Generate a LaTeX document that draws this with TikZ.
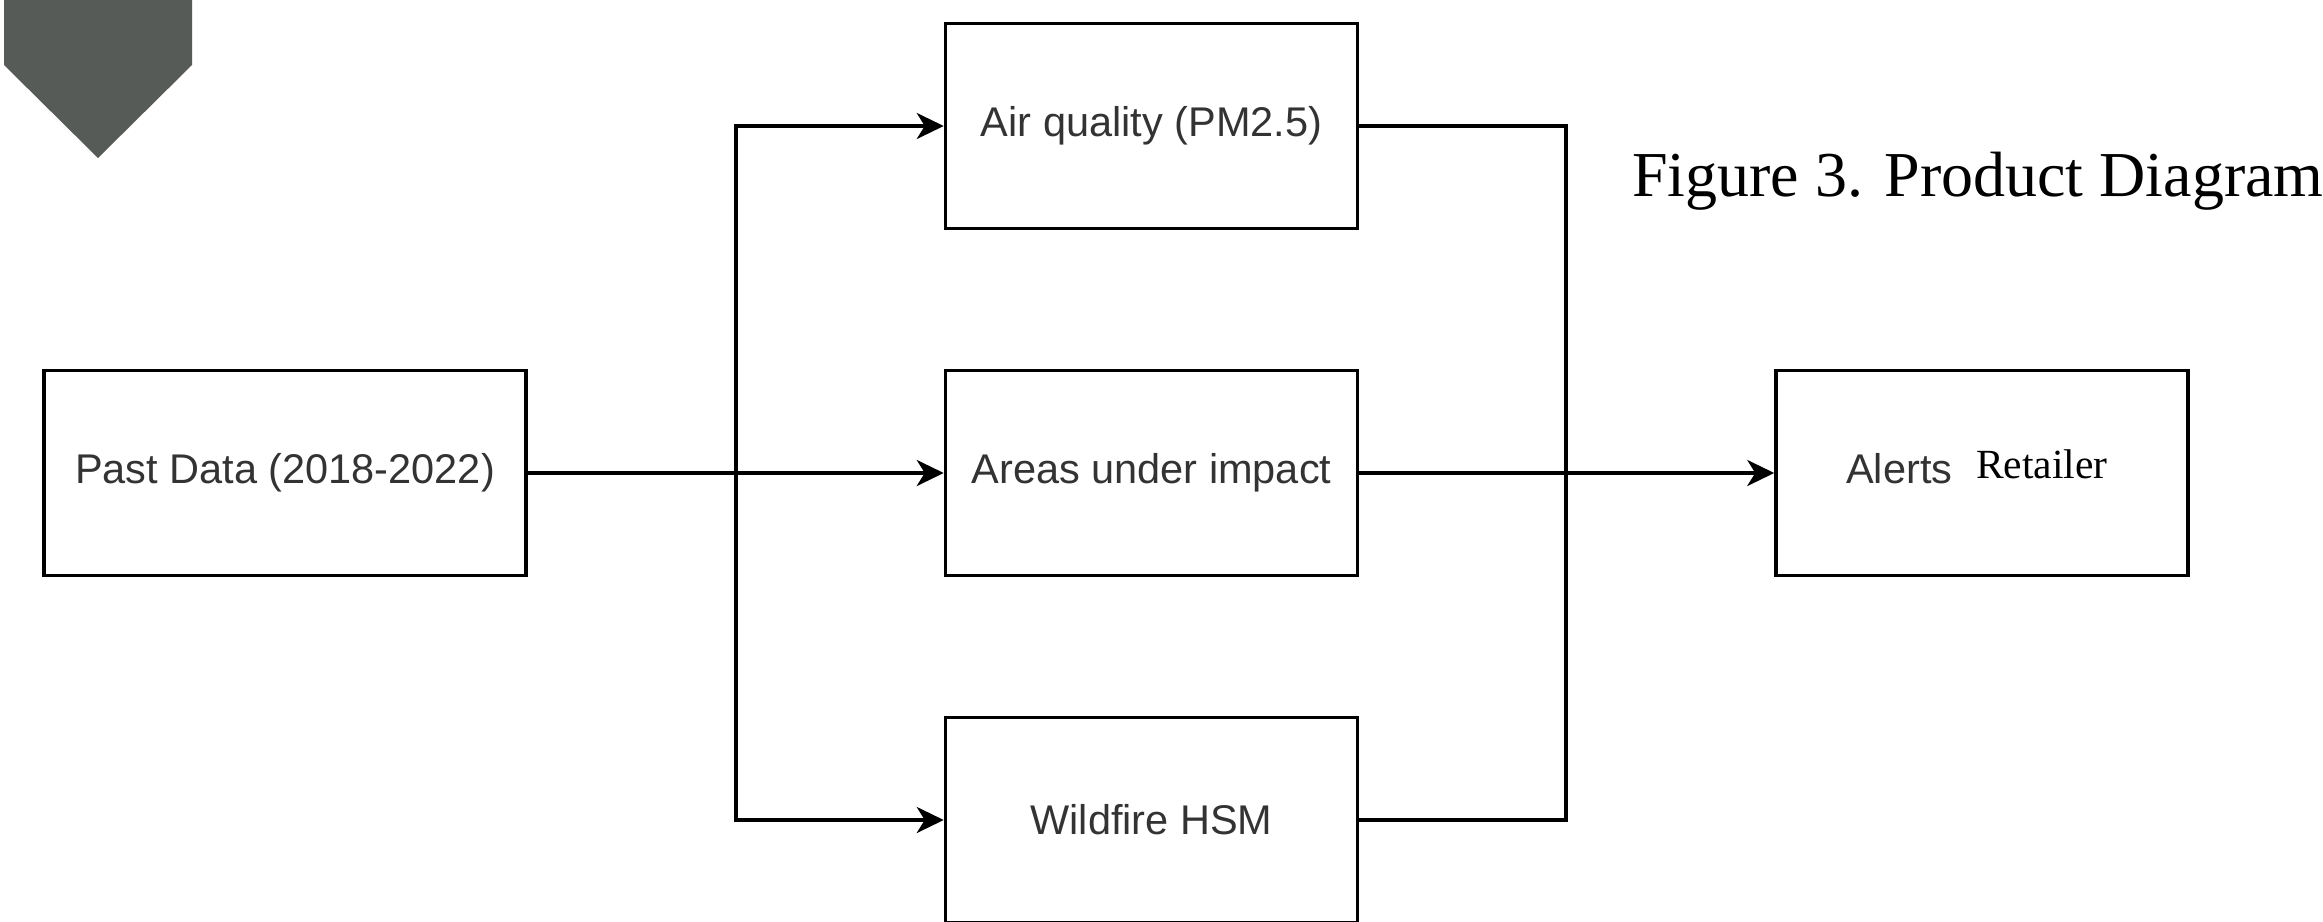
\documentclass[tikz,border=0pt]{standalone}
\usepackage{fontspec}
\setmainfont{Liberation Serif}
\newfontfamily\arialf{Liberation Sans}
\newfontfamily\timesf{Liberation Serif}
\usetikzlibrary{arrows.meta}
\definecolor{banner}{RGB}{87,91,87}
\definecolor{labelgray}{RGB}{51,51,51}
\tikzset{
  boxnode/.style={draw=black, line width=3.5pt, minimum width=412pt, minimum height=205pt,
    inner sep=0pt, font=\arialf\fontsize{41.5}{50}\selectfont, text=labelgray},
  flow/.style={draw=black, line width=3.5pt},
  arr/.style={flow, -{Stealth[length=27pt, width=26pt, inset=8pt]}},
  graylabel/.style={inner sep=0pt, font=\arialf\fontsize{41.5}{50}\selectfont, text=labelgray},
  serifcap/.style={inner sep=0pt, font=\timesf\fontsize{64}{72}\selectfont, text=black},
  serifsmall/.style={inner sep=0pt, font=\timesf\fontsize{41.5}{48}\selectfont, text=black}
}
\begin{document}
\begin{tikzpicture}[x=1pt, y=-1pt]
\useasboundingbox (0,0) rectangle (2323,921);
% banner shape
\fill[banner] (4,0) -- (192,0) -- (192,65) -- (98,158) -- (4,65) -- cycle;
% boxes
\node[boxnode, minimum width=482pt] (past) at (285,473) {Past Data (2018-2022)};
\node[boxnode] (air) at (1151.5,126) {Air quality (PM2.5)};
\node[boxnode] (areas) at (1151.5,473) {Areas under impact};
\node[boxnode] (wild) at (1151.5,820) {Wildfire HSM};
\node[boxnode] (alerts) at (1982,473) {};
\node[graylabel, anchor=base west] (alertstxt) at (1846,483) {Alerts};
\node[serifsmall, anchor=base west] (retailer) at (1976,478) {Retailer};
\node[serifcap, anchor=base west] (caption) at (1632,196) {Figure 3. Product Diagram};
% junctions
\coordinate (split) at (736,473);
\coordinate (merge) at (1566,473);
% connectors
\draw[arr] (past.east) -- (areas.west);
\draw[arr] (split) |- (air.west);
\draw[arr] (split) |- (wild.west);
\draw[arr] (areas.east) -- (alerts.west);
\draw[flow] (air.east) -| (merge);
\draw[flow] (wild.east) -| (merge);
\end{tikzpicture}
\end{document}
